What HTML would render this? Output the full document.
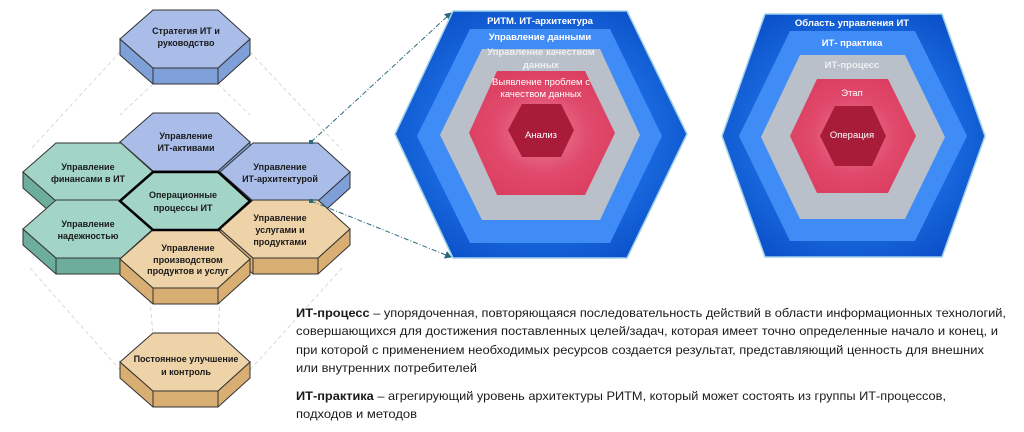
<!DOCTYPE html>
<html><head><meta charset="utf-8"><style>
html,body{margin:0;padding:0;background:#fff;width:1024px;height:432px;overflow:hidden}
svg{display:block}
.h{font-family:"Liberation Sans","Noto Sans CJK SC",sans-serif;font-weight:bold;font-size:9px;fill:#1a1a1a;text-anchor:middle}
.w{font-family:"Liberation Sans","Noto Sans CJK SC",sans-serif;font-weight:bold;font-size:9.5px;fill:#fff;text-anchor:middle}
.t{font-family:"Liberation Sans","Noto Sans CJK SC",sans-serif;font-size:12px;fill:#1a1a1a}
</style></head><body>
<svg width="1024" height="432" viewBox="0 0 1024 432" xmlns="http://www.w3.org/2000/svg">
<defs>
<radialGradient id="gb" cx="50%" cy="50%" r="60%"><stop offset="0.6" stop-color="#1a6be0"/><stop offset="1" stop-color="#0a4fc8"/></radialGradient>
<radialGradient id="gp" cx="50%" cy="50%" r="55%"><stop offset="0" stop-color="#ec7f98"/><stop offset="0.6" stop-color="#e04a6c"/><stop offset="1" stop-color="#dc3e60"/></radialGradient>
<marker id="ah" markerWidth="8" markerHeight="8" refX="6" refY="4" orient="auto" markerUnits="userSpaceOnUse"><path d="M0,0 L7,4 L0,8 z" fill="#2b6a7e"/></marker>
<g id="face"><polygon points="33,0 98,0 130,29 98,58 33,58 0,29"/></g>
<g id="side"><polygon points="0,29 33,58 98,58 130,29 130,45 98,74 33,74 0,45"/><path d="M33,58V74M98,58V74" fill="none"/></g>
</defs>

<!-- faint dashed guide lines -->
<g stroke="#cfcfcf" stroke-width="0.8" stroke-dasharray="4,3" fill="none">
<path d="M120,52 L30,150 M250,52 L342,150 M153,84 L120,115 M218,84 L250,115"/>
<path d="M30,268 L120,370 M342,268 L250,370 M150,300 L153,335 M220,300 L218,335"/>
</g>

<!-- hexes -->
<g stroke="#333" stroke-width="1">
<g transform="translate(120,10)"><use href="#side" fill="#7f9fd8"/><use href="#face" fill="#aabde9"/></g>
<g transform="translate(120,113)"><use href="#side" fill="#7f9fd8"/><use href="#face" fill="#aabde9"/></g>
<g transform="translate(23,143)"><use href="#side" fill="#6cae9b"/><use href="#face" fill="#a3d5c7"/></g>
<g transform="translate(220,143)"><use href="#side" fill="#7f9fd8"/><use href="#face" fill="#aabde9"/></g>
<g transform="translate(23,200)"><use href="#side" fill="#6cae9b"/><use href="#face" fill="#a3d5c7"/></g>
<g transform="translate(220,200)"><use href="#side" fill="#d9ae72"/><use href="#face" fill="#eed3a8"/></g>
<g transform="translate(120,230)"><use href="#side" fill="#d9ae72"/><use href="#face" fill="#eed3a8"/></g>
<g transform="translate(120,172)"><polygon points="33,0 98,0 130,29 98,58 33,58 0,29" fill="#a3d5c7" stroke="#000" stroke-width="2.5"/></g>
<g transform="translate(120,333)"><use href="#side" fill="#d9ae72"/><use href="#face" fill="#eed3a8"/></g>
</g>

<g class="h">
<text x="186" y="34">Стратегия ИТ и</text><text x="186" y="46">руководство</text>
<text x="186" y="139">Управление</text><text x="186" y="151">ИТ-активами</text>
<text x="88" y="170">Управление</text><text x="88" y="182">финансами в ИТ</text>
<text x="280" y="170">Управление</text><text x="280" y="182">ИТ-архитектурой</text>
<text x="183" y="198">Операционные</text><text x="183" y="211">процессы ИТ</text>
<text x="88" y="227">Управление</text><text x="88" y="239">надежностью</text>
<text x="280" y="221">Управление</text><text x="280" y="233">услугами и</text><text x="280" y="245">продуктами</text>
<text x="188" y="251">Управление</text><text x="188" y="263">производством</text><text x="188" y="274">продуктов  и услуг</text>
<text x="186" y="362">Постоянное улучшение</text><text x="186" y="375">и контроль</text>
</g>

<!-- connectors -->
<g stroke="#2b6a7e" stroke-width="1" stroke-dasharray="5,2,1,2" fill="none">
<path d="M311,142 L451,13" marker-end="url(#ah)"/>
<path d="M311,201 L451,257" marker-end="url(#ah)"/>
</g>
<rect x="309" y="140" width="4" height="4" fill="#2b6a7e"/>
<rect x="309" y="199" width="4" height="4" fill="#2b6a7e"/>

<!-- big hex 1 -->
<polygon points="453,11 627,11 687,134 627,258 453,258 395,134" fill="url(#gb)" stroke="#9fd0e8" stroke-width="1.5"/>
<polygon points="470,29 610,29 662,136 610,243 470,243 417,136" fill="#3f8cf6"/>
<polygon points="482,49 600,49 640,135 600,220 482,220 440,135" fill="#b9c0c9"/>
<polygon points="497,71 585,71 615,133 585,195 497,195 469,133" fill="url(#gp)"/>
<polygon points="522,104 561,104 574,130 561,157 522,157 508,130" fill="#a81c3a"/>
<g class="w">
<text x="540" y="24">РИТМ.  ИТ-архитектура</text>
<text x="540" y="40">Управление  данными</text>
<text x="541" y="55" fill="#eef0f4">Управление  качеством</text>
<text x="541" y="68" fill="#eef0f4">данных</text>
<text x="541" y="85" style="font-weight:normal">Выявление проблем с</text>
<text x="541" y="97" style="font-weight:normal">качеством данных</text>
<text x="541" y="138" style="font-weight:normal">Анализ</text>
</g>

<!-- big hex 2 -->
<polygon points="765,14 942,14 985,136 942,257 765,257 722,136" fill="url(#gb)" stroke="#9fd0e8" stroke-width="1.5"/>
<polygon points="790,31 915,31 967,136 915,241 790,241 739,136" fill="#3f8cf6"/>
<polygon points="800,55 905,55 945,137 905,219 800,219 761,137" fill="#b9c0c9"/>
<polygon points="817,79 888,79 916,136 888,193 817,193 790,136" fill="url(#gp)"/>
<polygon points="835,106 872,106 886,136 872,166 835,166 820,136" fill="#a81c3a"/>
<g class="w">
<text x="852" y="26">Область управления ИТ</text>
<text x="852" y="46">ИТ- практика</text>
<text x="852" y="68" fill="#eef0f4">ИТ-процесс</text>
<text x="852" y="96" style="font-weight:normal">Этап</text>
<text x="852" y="138" style="font-weight:normal">Операция</text>
</g>

<!-- text -->
<g class="t">
<text x="296" y="317" textLength="710" lengthAdjust="spacingAndGlyphs"><tspan font-weight="bold">ИТ-процесс</tspan> – упорядоченная, повторяющаяся последовательность действий в области информационных технологий,</text>
<text x="296" y="335" textLength="702" lengthAdjust="spacingAndGlyphs">совершающихся для достижения поставленных целей/задач, которая имеет точно определенные начало и конец, и</text>
<text x="296" y="354" textLength="688" lengthAdjust="spacingAndGlyphs">при которой с применением необходимых ресурсов создается результат, представляющий ценность для внешних</text>
<text x="296" y="372" textLength="181" lengthAdjust="spacingAndGlyphs">или внутренних потребителей</text>
<text x="296" y="400" textLength="650" lengthAdjust="spacingAndGlyphs"><tspan font-weight="bold">ИТ-практика</tspan>  – агрегирующий уровень архитектуры РИТМ, который может состоять из группы ИТ-процессов,</text>
<text x="296" y="418" textLength="121" lengthAdjust="spacingAndGlyphs">подходов и методов</text>
</g>
</svg>
</body></html>
